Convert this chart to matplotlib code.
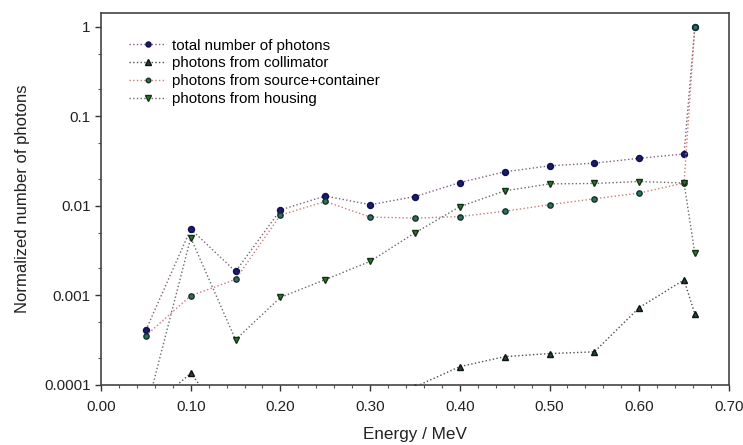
import matplotlib
matplotlib.use("Agg")
import matplotlib.pyplot as plt
from matplotlib.ticker import LogLocator, MultipleLocator, FixedLocator, NullFormatter

plt.rcParams['font.family'] = ['Liberation Sans', 'DejaVu Sans']

energy = [0.05, 0.10, 0.15, 0.20, 0.25, 0.30, 0.35, 0.40, 0.45, 0.50, 0.55, 0.60, 0.65, 0.662]
total = [4.1e-4, 5.5e-3, 1.85e-3, 9.0e-3, 0.0129, 0.0103, 0.0127, 0.0182, 0.024, 0.028, 0.030, 0.034, 0.038, 1.0]
collimator = [5e-5, 1.35e-4, 3e-5, 2e-5, 4e-5, 6e-5, 9.5e-5, 1.6e-4, 2.07e-4, 2.24e-4, 2.34e-4, 7.3e-4, 1.49e-3, 6.2e-4]
source = [3.56e-4, 9.9e-4, 1.51e-3, 7.9e-3, 0.0112, 0.0075, 0.0073, 0.0076, 0.0087, 0.0103, 0.012, 0.0139, 0.018, 1.0]
housing = [5e-5, 4.4e-3, 3.2e-4, 9.5e-4, 1.5e-3, 2.4e-3, 5.0e-3, 9.8e-3, 0.0147, 0.0176, 0.0178, 0.0187, 0.018, 2.96e-3]

labels = ["total number of photons", "photons from collimator",
          "photons from source+container", "photons from housing"]

fig = plt.figure(figsize=(7.43, 4.45), dpi=100)
ax = fig.add_axes([0.136, 0.135, 0.845, 0.836])

ax.plot(energy, total, linestyle=':', color='#806080', lw=1.0, marker='o', ms=4.3,
        mfc='#1a1a70', mec='#10104a', label=labels[0])
ax.plot(energy, collimator, linestyle=':', color='#505050', lw=1.0, marker='^', ms=5.0,
        mfc='#1e4d2b', mec='#111111', label=labels[1])
ax.plot(energy, source, linestyle=':', color='#d07a7a', lw=1.0, marker='o', ms=3.8,
        mfc='#2a7060', mec='#143028', label=labels[2])
ax.plot(energy, housing, linestyle=':', color='#6a6a6a', lw=1.0, marker='v', ms=4.5,
        mfc='#2a7a2a', mec='#143014', label=labels[3])

ax.set_yscale('log')
ax.set_ylim(1e-4, 1.43)
ax.set_xlim(0, 0.70)
ax.xaxis.set_major_locator(MultipleLocator(0.1))
ax.xaxis.set_minor_locator(MultipleLocator(0.02))
ax.xaxis.set_major_formatter(matplotlib.ticker.FormatStrFormatter('%.2f'))
ax.yaxis.set_major_locator(FixedLocator([1e-4, 1e-3, 1e-2, 1e-1, 1]))
ax.set_yticklabels(['0.0001', '0.001', '0.01', '0.1', '1'])
ax.yaxis.set_minor_locator(LogLocator(base=10, subs=[2, 5]))
ax.yaxis.set_minor_formatter(NullFormatter())

ax.tick_params(axis='both', which='major', direction='out', length=4, width=1,
               labelsize=11, colors='#333333', labelcolor='#222222')
ax.tick_params(axis='x', which='major', pad=7)
ax.tick_params(axis='both', which='minor', direction='out', length=2.5, width=0.8, colors='#555555')

for s in ax.spines.values():
    s.set_color('#444444')
    s.set_linewidth(1.2)

ax.set_xlabel('Energy / MeV', fontsize=12.3, color='#222222', labelpad=9.5)
ax.set_ylabel('Normalized number of photons', fontsize=12, color='#222222', labelpad=10)

leg = ax.legend(loc='upper left', bbox_to_anchor=(0.03, 0.955), frameon=False,
                fontsize=10.8, handlelength=2.5, handletextpad=0.4, labelspacing=0.25,
                borderaxespad=0.2, markerscale=0.85)

fig.savefig('out.png', dpi=100)
